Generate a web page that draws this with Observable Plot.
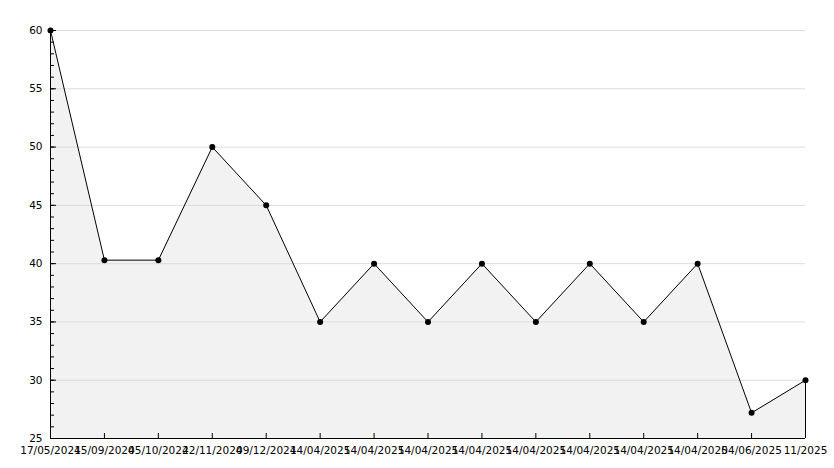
<!DOCTYPE html>
<html>
<head>
<meta charset="utf-8">
<script src="https://cdn.jsdelivr.net/npm/d3@7"></script>
<script src="https://cdn.jsdelivr.net/npm/@observablehq/plot@0.6"></script>
<style>
  html, body { margin: 0; padding: 0; background: #fff; }
  #chart svg { display: block; }
</style>
</head>
<body>
<div id="chart"></div>
<script>
const dateLabels = ["17/05/2024", "15/09/2024", "05/10/2024", "22/11/2024", "09/12/2024",
  "14/04/2025", "14/04/2025", "14/04/2025", "14/04/2025", "14/04/2025",
  "14/04/2025", "14/04/2025", "14/04/2025", "04/06/2025", "11/2025"];
const values = [60, 40.3, 40.3, 50, 45, 35, 40, 35, 40, 35, 40, 35, 40, 27.2, 30];
const yMin = 25, yMax = 60;
const majorTicks = [25, 30, 35, 40, 45, 50, 55, 60];
const gridTicks = [30, 35, 40, 45, 50, 55, 60];
const minorTicks = d3.range(25, 61);

const data = values.map((v, i) => ({i, v, label: dateLabels[i]}));
const idx = data.map(d => d.i);

const chart = Plot.plot({
  width: 834,
  height: 468,
  marginLeft: 50,
  marginRight: 29,
  marginTop: 30,
  marginBottom: 30,
  style: {fontFamily: "DejaVu Sans", fontSize: "10.5px", color: "#000", background: "#fff"},
  x: {domain: [0, values.length - 1]},
  y: {domain: [yMin, yMax]},
  marks: [
    Plot.areaY(data, {x: "i", y1: () => yMin, y2: "v", fill: "#f2f2f2"}),
    Plot.gridY(gridTicks, {stroke: "#dcdcdc", strokeOpacity: 1}),
    Plot.axisY(minorTicks, {tickSize: -4, tickFormat: () => "", stroke: "#000", label: null}),
    Plot.axisY(majorTicks, {tickSize: -6, tickPadding: 14, stroke: "#000", fill: "#000", label: null}),
    Plot.axisX(idx, {tickSize: -5, tickPadding: 13, tickFormat: i => dateLabels[i], stroke: "#000", fill: "#000", label: null}),
    Plot.ruleY([yMin], {stroke: "#000"}),
    Plot.ruleX([0], {stroke: "#000"}),
    Plot.ruleX(data.slice(-1), {x: "i", y1: () => yMin, y2: "v", stroke: "#000"}),
    Plot.lineY(data, {x: "i", y: "v", stroke: "#000", strokeWidth: 1}),
    Plot.dot(data, {x: "i", y: "v", r: 3, fill: "#000"})
  ]
});
document.getElementById("chart").appendChild(chart);
</script>
</body>
</html>
